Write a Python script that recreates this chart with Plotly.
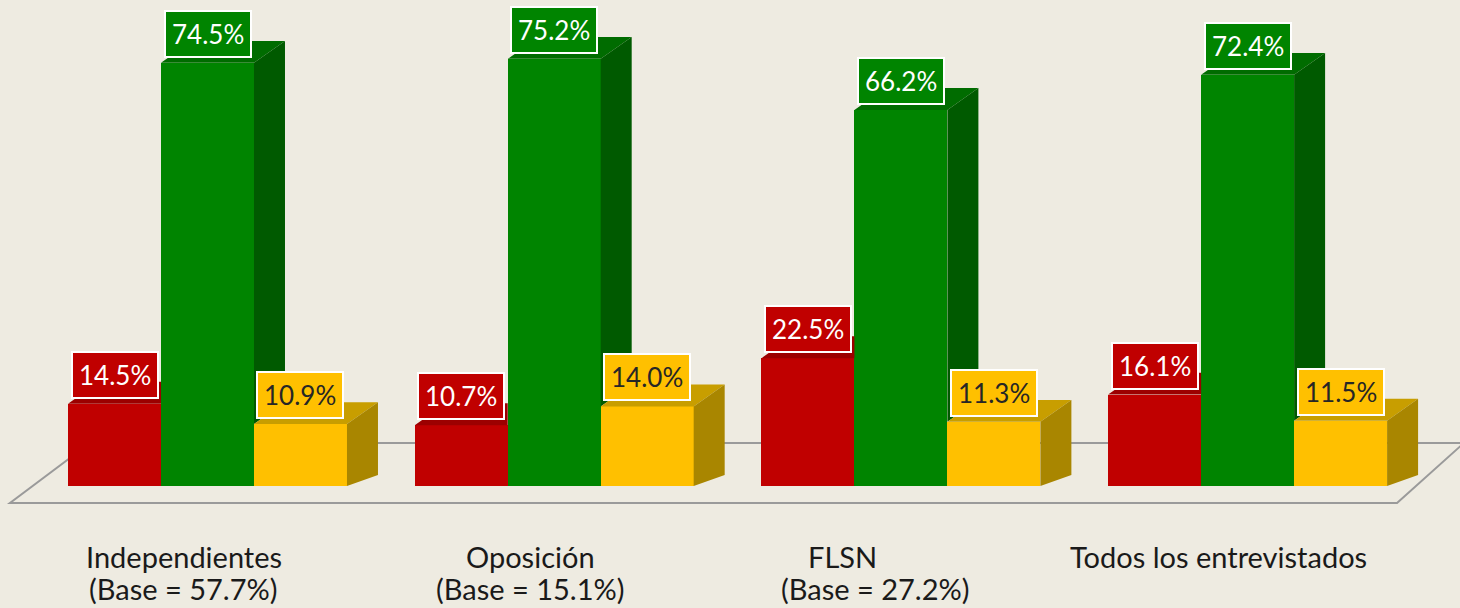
import plotly.graph_objects as go

# ---------------- data ----------------
groups = ["Independientes", "Oposición", "FLSN", "Todos los entrevistados"]
bases = ["(Base = 57.7%)", "(Base = 15.1%)", "(Base = 27.2%)", ""]
red_vals = [14.5, 10.7, 22.5, 16.1]
green_vals = [74.5, 75.2, 66.2, 72.4]
yellow_vals = [10.9, 14.0, 11.3, 11.5]

# ---------------- styling / geometry ----------------
BG = "#EEEBE1"
series = [
    dict(vals=red_vals, front="#C00000", top="#9C0000", side="#8A0000", txt="white"),
    dict(vals=green_vals, front="#008400", top="#006C00", side="#005A00", txt="white"),
    dict(vals=yellow_vals, front="#FFC000", top="#C89E00", side="#A98600", txt="#262626"),
]
W = 0.2682          # bar width (group spacing = 1)
DX = 0.0894         # depth offset in x
DYT = 3.85          # depth offset in y at bar tops
DYB = 1.95          # depth offset in y at bar bottoms
XR = [-0.5985, 3.6126]
YR = [-21.48, 85.56]

fig = go.Figure()
xs = list(range(len(groups)))

# front faces as bars
for i, s in enumerate(series):
    off = (i - 1) * W
    fig.add_trace(go.Bar(
        x=[g + off for g in xs], y=s["vals"], width=[W] * len(xs),
        marker=dict(color=s["front"], line=dict(width=0)),
        hoverinfo="skip", showlegend=False))

def add_poly(polys, color):
    px, py = [], []
    for poly in polys:
        for (a, b) in poly:
            px.append(a); py.append(b)
        px.append(poly[0][0]); py.append(poly[0][1])
        px.append(None); py.append(None)
    fig.add_trace(go.Scatter(x=px, y=py, mode="lines", fill="toself",
                             fillcolor=color, line=dict(width=0, color=color),
                             hoverinfo="skip", showlegend=False))

red_top, green_top, green_side, yel_top, yel_side = [], [], [], [], []
for g in xs:
    a = g - 1.5 * W
    b = g - 0.5 * W
    c = g + 0.5 * W
    d = g + 1.5 * W
    hr, hg, hy = red_vals[g], green_vals[g], yellow_vals[g]
    red_top.append([(a, hr), (b, hr), (b, hr + DYT), (a + DX, hr + DYT)])
    green_top.append([(b, hg), (c, hg), (c + DX, hg + DYT), (b + DX, hg + DYT)])
    green_side.append([(c, hy), (c + DX, hy + DYT), (c + DX, hg + DYT), (c, hg)])
    yel_top.append([(c, hy), (d, hy), (d + DX, hy + DYT), (c + DX, hy + DYT)])
    yel_side.append([(d, 0), (d + DX, DYB), (d + DX, hy + DYT), (d, hy)])

add_poly(red_top, series[0]["top"])
add_poly(green_top, series[1]["top"])
add_poly(green_side, series[1]["side"])
add_poly(yel_top, series[2]["top"])
add_poly(yel_side, series[2]["side"])

# floor (perspective plane)
fx0, fx1 = -0.5697, 3.431
bx0, bx1 = -0.339, 3.624
fy, by = -2.99, 7.57
fig.add_shape(type="path",
              path=f"M {fx0},{fy} L {fx1},{fy} L {bx1},{by} L {bx0},{by} Z",
              line=dict(color="#9A9A9A", width=2), fillcolor=BG, layer="below")

# value labels
for i, s in enumerate(series):
    off = (i - 1) * W
    for g in xs:
        fig.add_annotation(
            x=g + off, y=s["vals"][g], xref="x", yref="y",
            text=f"{s['vals'][g]:.1f}%", showarrow=False,
            yanchor="bottom", yshift=5,
            font=dict(family="Lato", size=26, color=s["txt"]),
            bgcolor=s["front"], bordercolor="white", borderwidth=2, borderpad=6)

# category labels
name_shift = [-24, -24, -58, -29]
base_shift = [-24, -24, -25, -29]
for g in xs:
    fig.add_annotation(x=g, y=-9.0, xref="x", yref="y", text=groups[g],
                       showarrow=False, yanchor="top", xshift=name_shift[g],
                       font=dict(family="Lato", size=29, color="#1A1A1A"))
    if bases[g]:
        fig.add_annotation(x=g, y=-14.6, xref="x", yref="y", text=bases[g],
                           showarrow=False, yanchor="top", xshift=base_shift[g],
                           font=dict(family="Lato", size=29, color="#1A1A1A"))

fig.update_layout(
    width=1460, height=608, autosize=False,
    margin=dict(l=0, r=0, t=0, b=0),
    paper_bgcolor=BG, plot_bgcolor=BG,
    barmode="overlay", bargap=0,
    xaxis=dict(range=XR, visible=False, fixedrange=True),
    yaxis=dict(range=YR, visible=False, fixedrange=True),
    showlegend=False,
)

fig.write_html("out.html", config={"displayModeBar": False},
               post_script="document.body.style.margin='0';document.body.style.overflow='hidden';document.body.style.background='" + BG + "';")
